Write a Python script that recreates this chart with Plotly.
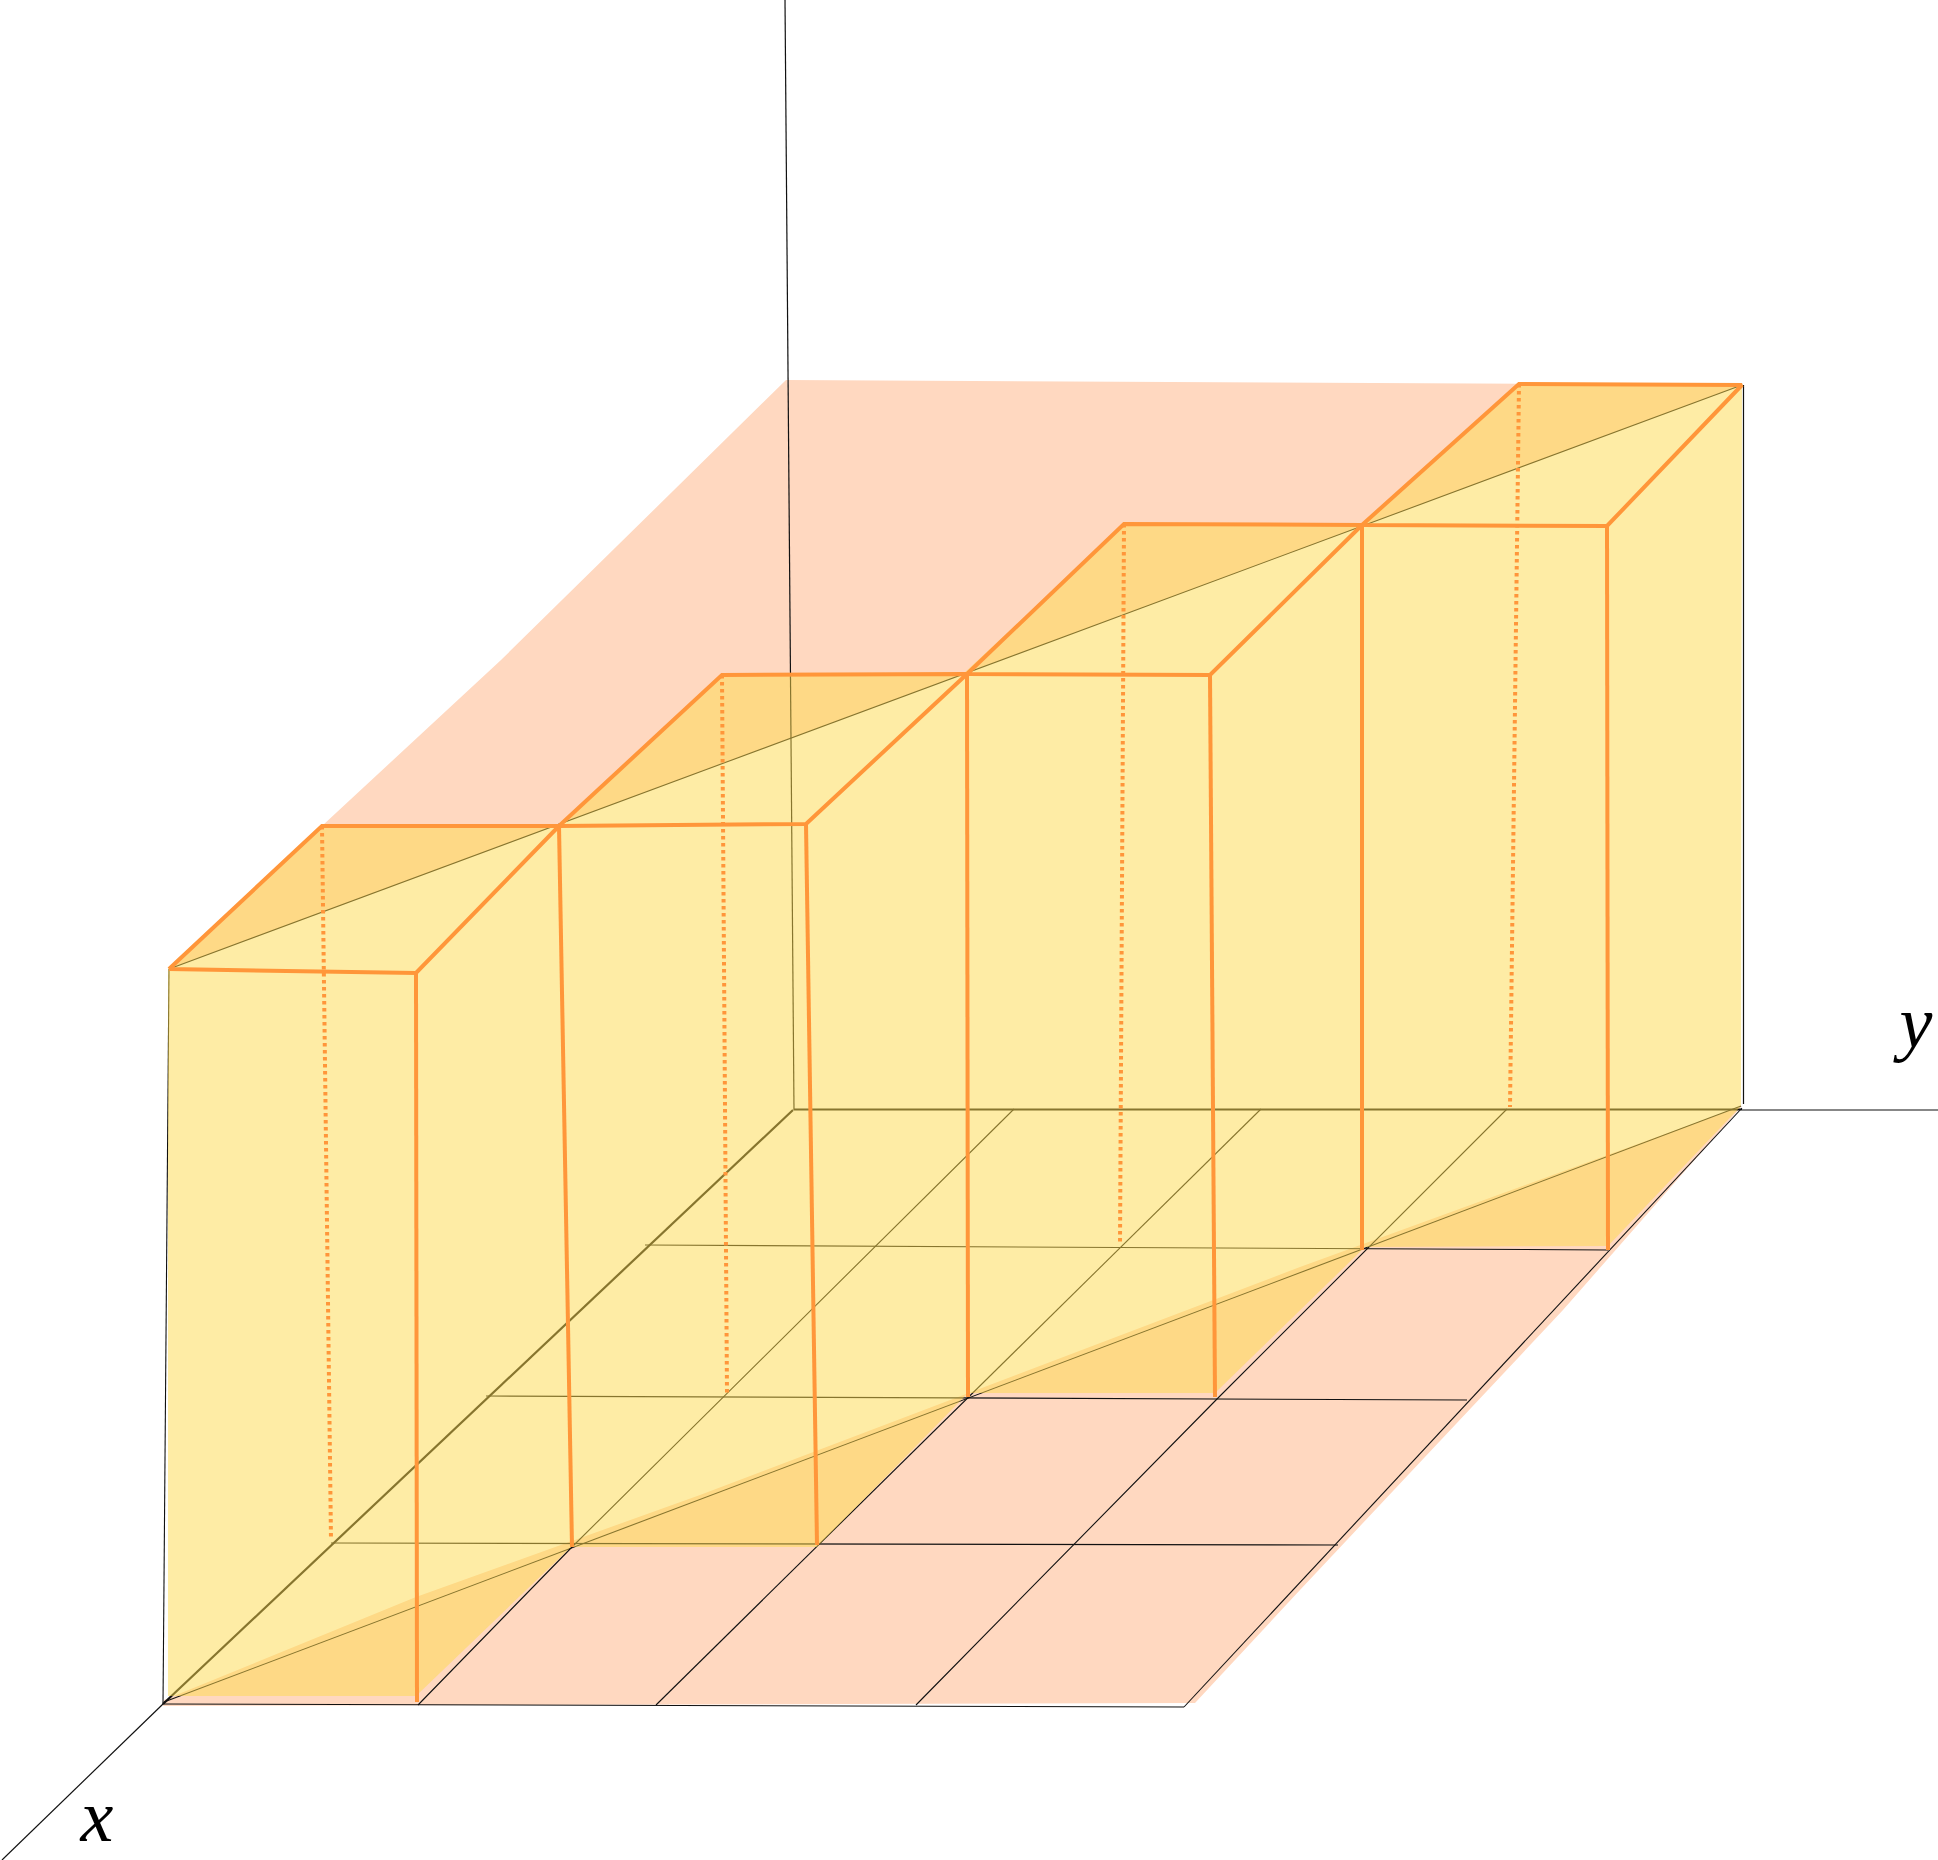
"""Stepped solid over a grid on the xy plane, drawn as flat polygons."""

import plotly.graph_objects as go

WIDTH = 1938
HEIGHT = 1860

PINK = "#FFD8C0"
YELLOW = "rgba(253,217,75,0.5)"
ORANGE = "#FF963A"
BLACK = "#111111"

# picture coordinates
wall_x = [786, 1742, 169, 323, 501]
wall_y = [380, 385, 969, 825, 660]

floor_x = [164, 416, 700, 1300, 1742, 1563, 1300, 1195, 163]
floor_y = [1700, 1597, 1495, 1267, 1106, 1310, 1590, 1703, 1706]

solid_x = [168, 322, 559, 722, 963, 1125, 1362, 1519, 1742, 1741, 1608, 1365, 1215, 968, 817, 571, 416, 168]
solid_y = [969, 826, 826, 675, 674, 524, 524, 384, 385, 1106, 1246, 1247, 1393, 1393, 1547, 1547, 1696, 1696]

# floor grid and edges of the solid's outline
grid_lines = [
    ([1014, 572, 418], [1109, 1547, 1705]),
    ([1261, 656], [1109, 1705]),
    ([1507, 1217, 916], [1109, 1399, 1705]),
    ([1742, 1184], [1108, 1707]),
    ([163, 1184], [1704, 1707]),
    ([331, 1338], [1543, 1545]),
    ([486, 1467], [1396, 1400]),
    ([645, 1608], [1245, 1250]),
    ([164, 1741], [1702, 1106]),
    ([169, 1742], [969, 385]),
    ([169, 163], [969, 1704]),
]
axis_lines = [
    ([785, 794], [0, 1110]),
    ([1742, 1938], [1110, 1110]),
    ([163, 2], [1704, 1860]),
    ([1743.5, 1743.5], [385, 1104]),
]
heavy_lines = [
    ([794, 1742], [1109.5, 1109.5]),
    ([793, 163], [1110, 1704]),
]

# edges of the four steps
step_edges = [
    ([169, 416, 559, 322, 169], [969, 973, 826, 826, 969]),
    ([559, 806, 967, 722, 559], [826, 824, 674, 675, 826]),
    ([967, 1210, 1362, 1124, 967], [674, 675, 525, 524, 674]),
    ([1362, 1607, 1742, 1519, 1362], [525, 526, 385, 384, 525]),
    ([416, 417], [973, 1702]),
    ([559, 572], [826, 1547]),
    ([806, 817], [824, 1545]),
    ([967, 968], [674, 1397]),
    ([1210, 1215], [675, 1397]),
    ([1362, 1362], [525, 1250]),
    ([1607, 1608], [526, 1250]),
]
hidden_edges = [
    ([322, 331], [826, 1540]),
    ([722, 727], [675, 1393]),
    ([1124, 1120], [524, 1245]),
    ([1519, 1510], [384, 1107]),
]

axis_names = ["<i>x</i>", "<i>y</i>"]
axis_name_x = [97, 1916]
axis_name_y = [1822, 1028]


def polygon(xs, ys, color):
    return go.Scatter(
        x=xs, y=ys, mode="lines", fill="toself", fillcolor=color,
        line=dict(width=0), hoverinfo="skip", showlegend=False,
    )


def segment(xs, ys, color, width, dash="solid"):
    return go.Scatter(
        x=xs, y=ys, mode="lines",
        line=dict(color=color, width=width, dash=dash),
        hoverinfo="skip", showlegend=False,
    )


fig = go.Figure()
fig.add_trace(polygon(wall_x, wall_y, PINK))
fig.add_trace(polygon(floor_x, floor_y, PINK))
for xs, ys in axis_lines:
    fig.add_trace(segment(xs, ys, BLACK, 1.2))
for xs, ys in grid_lines:
    fig.add_trace(segment(xs, ys, BLACK, 1.1))
for xs, ys in heavy_lines:
    fig.add_trace(segment(xs, ys, BLACK, 2.2))
fig.add_trace(polygon(solid_x, solid_y, YELLOW))
for xs, ys in hidden_edges:
    fig.add_trace(segment(xs, ys, ORANGE, 4, "3.5px,3.5px"))
for xs, ys in step_edges:
    fig.add_trace(segment(xs, ys, ORANGE, 4))
fig.add_trace(
    go.Scatter(
        x=axis_name_x, y=axis_name_y, mode="text", text=axis_names,
        textfont=dict(family="Liberation Serif", size=74, color="black"),
        hoverinfo="skip", showlegend=False,
    )
)

fig.update_layout(
    width=WIDTH,
    height=HEIGHT,
    margin=dict(l=0, r=0, t=0, b=0),
    plot_bgcolor="white",
    paper_bgcolor="white",
    xaxis=dict(range=[0, WIDTH], visible=False),
    yaxis=dict(range=[HEIGHT, 0], visible=False),
)
fig.write_html(
    "out.html",
    config={"displayModeBar": False},
    post_script="document.body.style.margin = '0';",
)
